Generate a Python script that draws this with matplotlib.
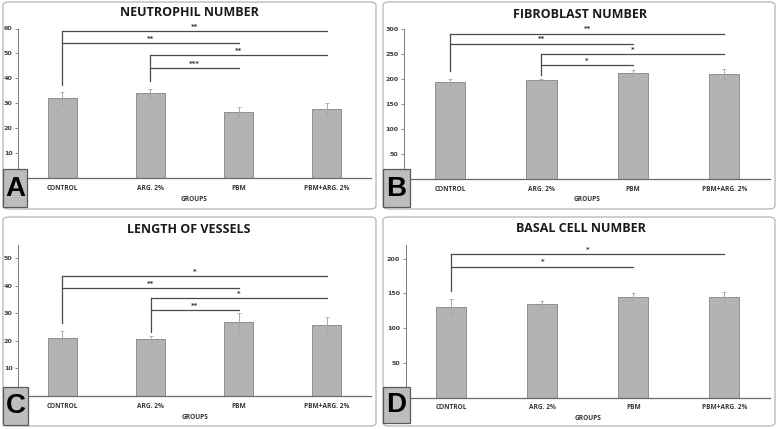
import matplotlib
matplotlib.use("Agg")
import matplotlib.pyplot as plt
from matplotlib.patches import FancyBboxPatch, Rectangle

W, H = 778, 429

groups = ["CONTROL", "ARG. 2%", "PBM", "PBM+ARG. 2%"]

# panel values (mean, error)
neutro_mean = [32.0, 34.0, 26.4, 27.6]
neutro_err = [2.5, 1.8, 2.0, 2.4]
fibro_mean = [194, 198, 212, 210]
fibro_err = [6, 2, 6, 10]
vessel_mean = [21.1, 20.5, 26.7, 25.7]
vessel_err = [2.4, 1.1, 3.4, 2.8]
basal_mean = [131, 134.5, 145, 145]
basal_err = [11, 5, 5, 7]

# brackets: (from group, to group, height, stars)
neutro_br = [(0, 3, 58.8, "**"), (0, 2, 54.2, "**"), (1, 3, 49.4, "**"), (1, 2, 44.3, "***")]
neutro_stem = [(0, 37.2), (1, 39.1)]
fibro_br = [(0, 3, 291.5, "**"), (0, 2, 271.5, "**"), (1, 3, 249.5, "*"), (1, 2, 228, "*")]
fibro_stem = [(0, 217), (1, 208)]
vessel_br = [(0, 3, 43.6, "*"), (0, 2, 39.2, "**"), (1, 3, 35.5, "*"), (1, 2, 31.1, "**")]
vessel_stem = [(0, 26.3), (1, 23.3)]
basal_br = [(0, 3, 206, "*"), (0, 2, 188.5, "*")]
basal_stem = [(0, 153.6)]

fig = plt.figure(figsize=(W / 100, H / 100), dpi=100)
fig.patch.set_facecolor("white")


def fx(x):
    return x / W


def fy(y):
    return 1 - y / H


def add_frame(x0, y0, x1, y1):
    box = FancyBboxPatch((fx(x0), fy(y1)), fx(x1 - x0), (y1 - y0) / H,
                         boxstyle="round,pad=0,rounding_size=0.008",
                         transform=fig.transFigure, facecolor="white",
                         edgecolor="#b5b5b5", linewidth=0.9, zorder=-5)
    fig.patches.append(box)


def add_letter(x0, y0, x1, y1, letter):
    r = Rectangle((fx(x0), fy(y1)), fx(x1 - x0), (y1 - y0) / H,
                  transform=fig.transFigure, facecolor="#bdbdbd",
                  edgecolor="#5a5a5a", linewidth=0.9, zorder=10)
    fig.patches.append(r)
    fig.text(fx((x0 + x1) / 2), fy((y0 + y1) / 2 + 0.5), letter, ha="center", va="center",
             fontsize=20, fontweight="bold", family="Liberation Sans", color="black", zorder=11)


def panel(left, right, base, top, ymax, yticks, means, errs, brackets, stems,
          title, tx, ty, frame, letter_box, letter, lab_y, grp_y):
    add_frame(*frame)
    ax = fig.add_axes([fx(left), fy(base), fx(right - left), (base - top) / H])
    ax.set_facecolor("none")
    x = range(len(groups))
    ax.bar(x, means, width=0.33, color="#b3b3b3", edgecolor="#8f8f8f", linewidth=0.7, zorder=2)
    ax.errorbar(x, means, yerr=errs, fmt="none", ecolor="#a8a8a8", elinewidth=0.7,
                capsize=1.2, capthick=0.6, zorder=3)
    ax.set_xlim(-0.5, 3.5)
    ax.set_ylim(0, ymax)
    ax.set_yticks(yticks)
    ax.tick_params(axis="y", length=2, width=0.6, color="#777777", pad=2,
                   labelsize=4.6, labelcolor="#404040")
    for t in ax.get_yticklabels():
        t.set_fontweight("bold")
    ax.set_xticks([])
    for s in ["top", "right"]:
        ax.spines[s].set_visible(False)
    ax.spines["left"].set_color("#7a7a7a")
    ax.spines["left"].set_linewidth(0.7)
    ax.spines["bottom"].set_color("#6a6a6a")
    ax.spines["bottom"].set_linewidth(0.9)

    # significance brackets
    lc = "#4a4a4a"
    for g, y0 in stems:
        ytop = max(b[2] for b in brackets if b[0] == g)
        ax.plot([g, g], [y0, ytop], color=lc, lw=0.9, clip_on=False, zorder=4)
    for a, b, y, s in brackets:
        ax.plot([a, b], [y, y], color=lc, lw=0.9, clip_on=False, zorder=4)
        ax.annotate(s, xy=((a + b) / 2, y), xytext=(0, 0.8), textcoords="offset points",
                    ha="center", va="bottom", fontsize=5, fontweight="bold",
                    color="#333333", annotation_clip=False)

    # category labels (figure coords so they sit like the original)
    for i, g in enumerate(groups):
        xd = ax.transData.transform((i, 0))[0]
        fig.text(xd / fig.bbox.width, fy(lab_y), g, ha="center", va="center",
                 fontsize=4.7, fontweight="bold", family="Open Sans", color="#333333")
    fig.text(fx((left + right) / 2), fy(grp_y), "GROUPS", ha="center", va="center",
             fontsize=4.7, fontweight="bold", family="Open Sans", color="#333333")
    fig.text(fx(tx), fy(ty), title, ha="center", va="center", fontsize=9,
             fontweight="bold", family="Open Sans", color="#1a1a1a")
    add_letter(*letter_box, letter)


panel(18.3, 370.7, 178.3, 28.5, 60, [10, 20, 30, 40, 50, 60], neutro_mean, neutro_err,
      neutro_br, neutro_stem, "NEUTROPHIL NUMBER", 189, 13,
      (3, 2, 376, 209), (3, 169, 27, 207), "A", 188.3, 199.3)
panel(404.3, 770, 179, 29.3, 300, [50, 100, 150, 200, 250, 300], fibro_mean, fibro_err,
      fibro_br, fibro_stem, "FIBROBLAST NUMBER", 580, 14,
      (383, 2, 775, 209), (383, 169, 410, 207), "B", 189.3, 199.7)
panel(18.3, 371, 395.7, 244.7, 55, [10, 20, 30, 40, 50], vessel_mean, vessel_err,
      vessel_br, vessel_stem, "LENGTH OF VESSELS", 189, 229.7,
      (3, 217, 376, 426), (3, 387, 28, 424.5), "C", 406.7, 417.3)
panel(405.7, 770, 397.5, 244.7, 220, [50, 100, 150, 200], basal_mean, basal_err,
      basal_br, basal_stem, "BASAL CELL NUMBER", 580.7, 229,
      (383, 217, 775, 426), (383, 387, 410, 423), "D", 407.3, 418)

fig.savefig("out.png", dpi=100, facecolor="white")
